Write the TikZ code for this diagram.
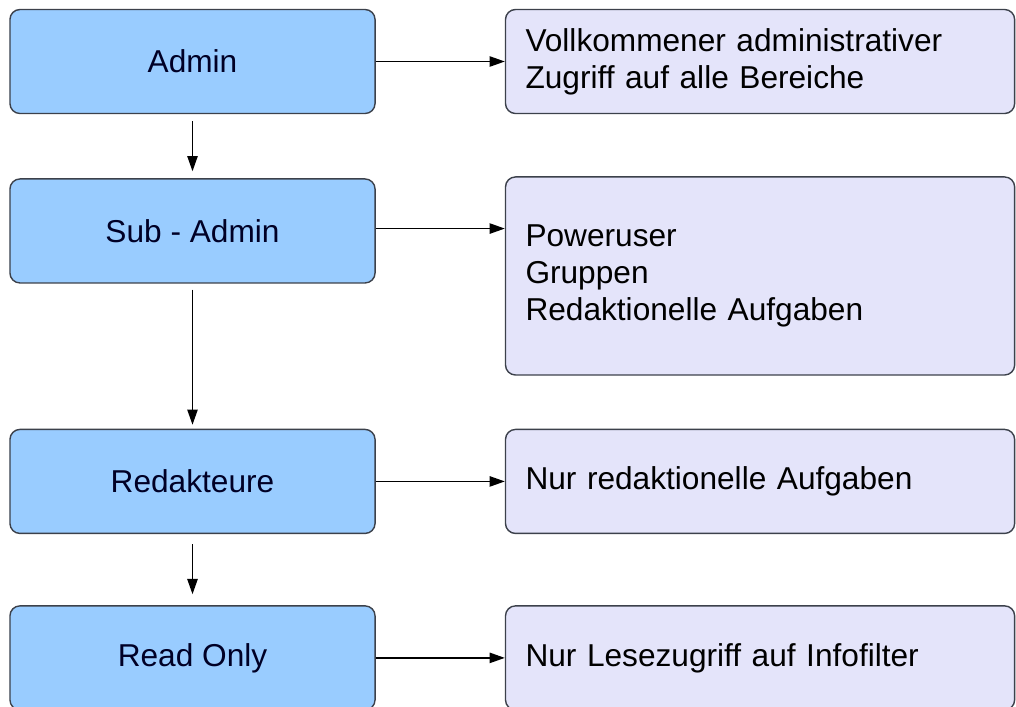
\documentclass[tikz,border=0pt]{standalone}
\usepackage{fontspec}
\setmainfont{Liberation Sans}
\usetikzlibrary{arrows.meta}
\usetikzlibrary{positioning}

\definecolor{rolefill}{RGB}{153,204,255}
\definecolor{rightsfill}{RGB}{228,228,250}
\definecolor{boxline}{RGB}{60,65,75}

\begin{document}
\begin{tikzpicture}[x=0.025cm,y=-0.025cm,
  role/.style={draw=boxline,fill=rolefill,line width=1pt,rounded corners=0.25cm,
    minimum width=9.125cm,minimum height=2.6cm,text=black!85!blue,
    font=\fontsize{22.5}{26}\selectfont},
  rights/.style={draw=boxline,fill=rightsfill,line width=1pt,rounded corners=0.25cm,
    minimum width=12.725cm,minimum height=2.6cm,inner xsep=0.5cm,text width=11.725cm,
    align=left,font=\fontsize{22.5}{26.5}\selectfont},
  link/.style={-{Triangle[length=0.38cm,width=0.26cm]},line width=0.9pt}]
\useasboundingbox (0,0) rectangle (1016,706);

% roles, top to bottom
\node[role] (admin) at (192.5,61.5) {Admin};
\node[role,below=1.6cm of admin] (sub) {Sub - Admin};
\node[role,below=3.625cm of sub] (red) {Redakteure};
\node[role,below=1.775cm of red] (read) {Read Only};

% what each role may do
\node[rights,right=3.225cm of admin] (adminR) {Vollkommener administrativer\\Zugriff auf alle Bereiche};
\node[rights,right=3.225cm of sub.north east,anchor=north west,minimum height=4.95cm,yshift=0.05cm] (subR) {Poweruser\\Gruppen\\Redaktionelle Aufgaben};
\node[rights,right=3.225cm of red] (redR) {Nur redaktionelle Aufgaben};
\node[rights,right=3.225cm of read] (readR) {Nur Lesezugriff auf Infofilter};

% hierarchy
\draw[link,shorten <=0.175cm,shorten >=0.175cm] (admin) -- (sub);
\draw[link,shorten <=0.15cm,shorten >=0.1cm] (sub) -- (red);
\draw[link,shorten <=0.25cm,shorten >=0.275cm] (red) -- (read);

% rights
\draw[link] (admin) -- (adminR);
\draw[link] ([yshift=0.06cm]sub.east) -- ([yshift=0.06cm]sub.east -| subR.west);
\draw[link] (red) -- (redR);
\draw[link] (read) -- (readR);

\end{tikzpicture}
\end{document}
